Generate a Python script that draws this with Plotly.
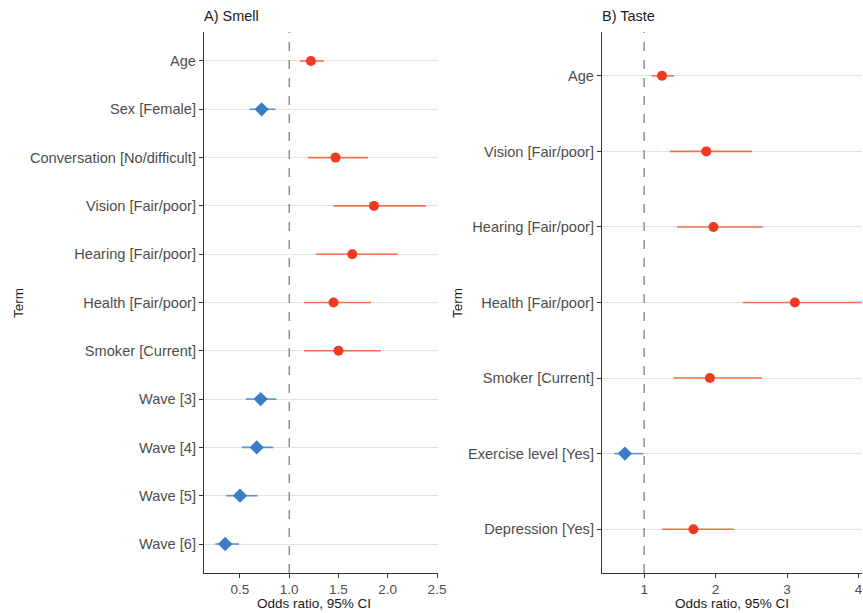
import plotly.graph_objects as go

W, H = 863, 613

# ---- Data: A) Smell ----
smell_terms = ["Age", "Sex [Female]", "Conversation [No/difficult]", "Vision [Fair/poor]",
               "Hearing [Fair/poor]", "Health [Fair/poor]", "Smoker [Current]",
               "Wave [3]", "Wave [4]", "Wave [5]", "Wave [6]"]
smell_or = [1.22, 0.72, 1.47, 1.86, 1.64, 1.45, 1.50, 0.71, 0.67, 0.50, 0.35]
smell_lo = [1.11, 0.60, 1.19, 1.45, 1.27, 1.15, 1.15, 0.56, 0.52, 0.36, 0.25]
smell_hi = [1.35, 0.86, 1.80, 2.39, 2.10, 1.83, 1.93, 0.87, 0.84, 0.68, 0.49]

# ---- Data: B) Taste ----
taste_terms = ["Age", "Vision [Fair/poor]", "Hearing [Fair/poor]", "Health [Fair/poor]",
               "Smoker [Current]", "Exercise level [Yes]", "Depression [Yes]"]
taste_or = [1.25, 1.87, 1.97, 3.11, 1.92, 0.73, 1.69]
taste_lo = [1.10, 1.36, 1.46, 2.38, 1.41, 0.58, 1.25]
taste_hi = [1.42, 2.51, 2.66, 4.30, 2.65, 0.99, 2.26]

smell_xticks = [0.5, 1.0, 1.5, 2.0, 2.5]
taste_xticks = [1, 2, 3, 4]

RED = "#EE3A22"
RED_LINE = "#F37148"
BLUE = "#3B7CC6"
BLUE_LINE = "#5A93D3"
TXT = "#4D4D4D"
DARK = "#1A1A1A"
FONT = "Liberation Sans, Arial, sans-serif"

fig = go.Figure()

def add_panel(terms, orv, lo, hi, xa, ya):
    n = len(terms)
    ys = [n - 1 - i for i in range(n)]
    for up in (True, False):
        idx = [i for i in range(n) if (orv[i] > 1) == up]
        lx, ly = [], []
        for i in idx:
            lx += [lo[i], hi[i], None]
            ly += [ys[i], ys[i], None]
        col_l = RED_LINE if up else BLUE_LINE
        col_m = RED if up else BLUE
        fig.add_trace(go.Scatter(x=lx, y=ly, mode="lines", xaxis=xa, yaxis=ya,
                                 line=dict(color=col_l, width=1.6), showlegend=False,
                                 hoverinfo="skip"))
        fig.add_trace(go.Scatter(x=[orv[i] for i in idx], y=[ys[i] for i in idx],
                                 mode="markers", xaxis=xa, yaxis=ya, showlegend=False,
                                 marker=dict(color=col_m, size=10 if up else 11,
                                             symbol="circle" if up else "diamond",
                                             line=dict(width=0))))
    return ys

ys_s = add_panel(smell_terms, smell_or, smell_lo, smell_hi, "x", "y")
ys_t = add_panel(taste_terms, taste_or, taste_lo, taste_hi, "x2", "y2")

def px_x(p):
    return p / W

def px_y(p):
    return 1 - p / H

ytop, ybot = px_y(32), px_y(573)

common_x = dict(showgrid=False, zeroline=False, showline=True, linecolor="#333333", linewidth=1.2,
                ticks="outside", ticklen=4, tickcolor="#333333", tickwidth=1, automargin=False,
                tickfont=dict(family=FONT, size=13.5, color=TXT))
common_y = dict(showgrid=True, gridcolor="#E3E3E3", gridwidth=1, zeroline=False, showline=True,
                linecolor="#333333", linewidth=1.2, ticks="outside", ticklen=4,
                tickcolor="#333333", tickwidth=1, automargin=False,
                tickfont=dict(family=FONT, size=14.6, color=TXT))

fig.update_layout(
    template="none",
    width=W, height=H, margin=dict(l=0, r=0, t=0, b=0, pad=0),
    paper_bgcolor="white", plot_bgcolor="white",
    font=dict(family=FONT, color=TXT),
    xaxis=dict(domain=[px_x(204), px_x(438)], range=[0.135, 2.51], tickvals=smell_xticks,
               ticktext=[f"{v:.1f}" for v in smell_xticks], anchor="y", **common_x),
    yaxis=dict(domain=[ybot, ytop], range=[-0.6, len(smell_terms) - 0.4], tickvals=ys_s,
               ticktext=smell_terms, anchor="x", **common_y),
    xaxis2=dict(domain=[px_x(602), px_x(862)], range=[0.41, 4.05], tickvals=taste_xticks,
                ticktext=[str(v) for v in taste_xticks], anchor="y2", **common_x),
    yaxis2=dict(domain=[ybot, ytop], range=[-0.58, len(taste_terms) - 0.42], tickvals=ys_t,
                ticktext=taste_terms, anchor="x2", **common_y),
    shapes=[
        dict(type="line", xref="x", yref="paper", x0=1, x1=1, y0=ybot, y1=ytop,
             line=dict(color="#808080", width=1.3, dash="dash")),
        dict(type="line", xref="x2", yref="paper", x0=1, x1=1, y0=ybot, y1=ytop,
             line=dict(color="#808080", width=1.3, dash="dash")),
    ],
    annotations=[
        dict(text="A) Smell", x=px_x(202), y=px_y(16), xref="paper", yref="paper",
             xanchor="left", yanchor="middle", showarrow=False,
             font=dict(family=FONT, size=14.5, color=DARK)),
        dict(text="B) Taste", x=px_x(600), y=px_y(16), xref="paper", yref="paper",
             xanchor="left", yanchor="middle", showarrow=False,
             font=dict(family=FONT, size=14.5, color=DARK)),
        dict(text="Odds ratio, 95% CI", x=px_x(314), y=px_y(603), xref="paper", yref="paper",
             xanchor="center", yanchor="middle", showarrow=False,
             font=dict(family=FONT, size=13.5, color=DARK)),
        dict(text="Odds ratio, 95% CI", x=px_x(732), y=px_y(603), xref="paper", yref="paper",
             xanchor="center", yanchor="middle", showarrow=False,
             font=dict(family=FONT, size=13.5, color=DARK)),
        dict(text="Term", x=px_x(18), y=px_y(303), xref="paper", yref="paper",
             xanchor="center", yanchor="middle", showarrow=False, textangle=-90,
             font=dict(family=FONT, size=13.5, color=DARK)),
        dict(text="Term", x=px_x(457), y=px_y(303), xref="paper", yref="paper",
             xanchor="center", yanchor="middle", showarrow=False, textangle=-90,
             font=dict(family=FONT, size=13.5, color=DARK)),
    ],
)

fig.write_html("out.html")
